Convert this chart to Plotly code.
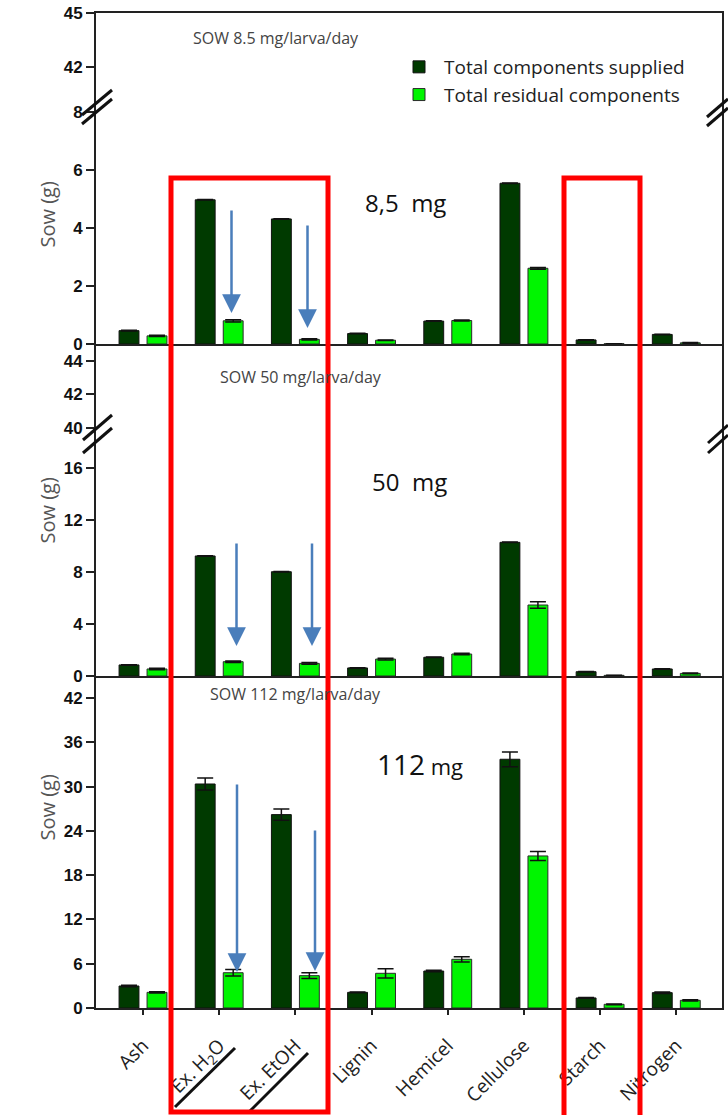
import plotly.graph_objects as go

W, H = 728, 1115

categories = ["Ash", "Ex. H<sub>2</sub>O", "Ex. EtOH", "Lignin", "Hemicel", "Cellulose", "Starch", "Nitrogen"]

# SOW 8.5 mg/larva/day
supplied_85 = [0.46, 4.97, 4.31, 0.36, 0.79, 5.54, 0.14, 0.33]
residual_85 = [0.28, 0.80, 0.16, 0.13, 0.81, 2.61, 0.01, 0.04]
supplied_85_err = [0.01, 0.01, 0.01, 0.01, 0.01, 0.01, 0.01, 0.01]
residual_85_err = [0.02, 0.04, 0.02, 0.01, 0.02, 0.03, 0.0, 0.01]

# SOW 50 mg/larva/day
supplied_50 = [0.85, 9.23, 8.02, 0.62, 1.44, 10.28, 0.33, 0.54]
residual_50 = [0.54, 1.10, 0.97, 1.30, 1.69, 5.46, 0.05, 0.20]
supplied_50_err = [0.02, 0.02, 0.02, 0.02, 0.02, 0.02, 0.02, 0.02]
residual_50_err = [0.05, 0.06, 0.06, 0.06, 0.06, 0.25, 0.01, 0.03]

# SOW 112 mg/larva/day
supplied_112 = [2.98, 30.35, 26.2, 2.12, 5.01, 33.7, 1.36, 2.08]
residual_112 = [2.12, 4.78, 4.38, 4.70, 6.60, 20.6, 0.50, 1.04]
supplied_112_err = [0.1, 0.8, 0.77, 0.05, 0.1, 1.0, 0.05, 0.1]
residual_112_err = [0.08, 0.45, 0.40, 0.63, 0.36, 0.60, 0.05, 0.08]

DARK = "#003a00"
LIGHT = "#00f500"
EDGE = "#2a2a2a"


def px(x):
    return x / W


def py(y):
    return 1 - y / H


fig = go.Figure()

panels = [
    (supplied_85, residual_85, supplied_85_err, residual_85_err, [("x", "y"), ("x2", "y2")]),
    (supplied_50, residual_50, supplied_50_err, residual_50_err, [("x3", "y3"), ("x4", "y4")]),
    (supplied_112, residual_112, supplied_112_err, residual_112_err, [("x5", "y5")]),
]

first = True
for sup, res, se, re_, axes in panels:
    for xa, ya in axes:
        fig.add_trace(go.Bar(
            x=categories, y=sup, name="Total components supplied",
            marker=dict(color=DARK, line=dict(color="#111", width=1)),
            error_y=dict(type="data", array=se, visible=True, color="#111", thickness=1.5, width=8),
            xaxis=xa, yaxis=ya, showlegend=first, legendgroup="s",
        ))
        fig.add_trace(go.Bar(
            x=categories, y=res, name="Total residual components",
            marker=dict(color=LIGHT, line=dict(color=EDGE, width=1)),
            error_y=dict(type="data", array=re_, visible=True, color="#111", thickness=1.5, width=8),
            xaxis=xa, yaxis=ya, showlegend=first, legendgroup="r",
        ))
        first = False

xdom = [px(96), px(722)]
xrange_ = [-0.617, 7.6]
axis_line = dict(showline=True, linecolor="#222", linewidth=2, automargin=False)
ytick = dict(family="Liberation Sans, Arial", size=17, color="#111", weight="bold")

common_x = dict(domain=xdom, range=xrange_, showgrid=False, zeroline=False, fixedrange=True,
                type="category", **axis_line)
common_y = dict(ticks="outside", ticklen=8, tickwidth=2, tickcolor="#222", tickfont=ytick,
                showgrid=False, zeroline=False, mirror=True, tick0=0, **axis_line)

layout = dict(
    width=W, height=H, margin=dict(l=0, r=0, t=0, b=0, autoexpand=False),
    plot_bgcolor="white", paper_bgcolor="white",
    barmode="group", bargap=0.265, bargroupgap=0.29,
    font=dict(family="Open Sans", color="#222"),
    showlegend=True,
    legend=dict(x=px(394), y=py(48), xanchor="left", yanchor="top",
                font=dict(family="Open Sans", size=19, color="#222"),
                bgcolor="rgba(0,0,0,0)", tracegroupgap=0, itemwidth=40),
)

# Panel 1 (broken axis)
layout["xaxis"] = dict(common_x, anchor="y", showticklabels=False, ticks="")
layout["yaxis"] = dict(common_y, domain=[py(344), py(100)], range=[0, 8.41], dtick=2, anchor="x")
layout["xaxis2"] = dict(common_x, anchor="y2", side="top", showticklabels=False, ticks="")
layout["yaxis2"] = dict(common_y, domain=[py(100), py(13)], range=[40.17, 45], dtick=3, anchor="x2")
# Panel 2 (broken axis)
layout["xaxis3"] = dict(common_x, anchor="y3", showticklabels=False, ticks="")
layout["yaxis3"] = dict(common_y, domain=[py(676), py(440)], range=[0, 18.15], dtick=4, anchor="x3")
layout["xaxis4"] = dict(common_x, anchor="y4", side="top", showticklabels=False, ticks="")
layout["yaxis4"] = dict(common_y, domain=[py(440), py(346)], range=[39.29, 44.88], dtick=2, anchor="x4")
# Panel 3
layout["xaxis5"] = dict(common_x, anchor="y5", mirror=True, showticklabels=True, ticks="outside",
                        ticklen=5, tickwidth=2, tickcolor="#222", tickangle=-45,
                        ticklabelstandoff=12,
                        tickfont=dict(family="Open Sans", size=19, color="#222"))
layout["yaxis5"] = dict(common_y, domain=[py(1008), py(678)], range=[0, 44.71], dtick=6, anchor="x5")

fig.update_layout(**layout)

ann = []
for yc in [180, 511, 843]:
    ann.append(dict(x=px(31), y=py(yc), xref="paper", yref="paper", text="Sow (g)", textangle=-90,
                    showarrow=False, font=dict(family="Open Sans", size=20, color="#555")))
for xc, yc, t in [(276, 25, "SOW 8.5 mg/larva/day"), (301, 364, "SOW 50 mg/larva/day"),
                  (295, 694, "SOW 112 mg/larva/day")]:
    ann.append(dict(x=px(xc), y=py(yc), xref="paper", yref="paper", text=t, showarrow=False,
                    font=dict(family="Open Sans", size=16, color="#444")))
ann.append(dict(x=px(405), y=py(184), xref="paper", yref="paper", text="8,5  mg", showarrow=False,
                font=dict(family="Open Sans", size=24, color="#111")))
ann.append(dict(x=px(409), y=py(481), xref="paper", yref="paper", text="50  mg", showarrow=False,
                font=dict(family="Open Sans", size=24, color="#111")))
ann.append(dict(x=px(420), y=py(785), xref="paper", yref="paper",
                text="<span style='font-size:28px'>112</span> mg", showarrow=False,
                font=dict(family="Open Sans", size=22, color="#111")))
for xt, yt, y0 in [(231.5, 313, 209), (307.5, 328, 224), (236.5, 646, 542), (312, 646, 542),
                   (237, 972, 783), (315, 971, 829)]:
    ann.append(dict(x=px(xt), y=py(yt), xref="paper", yref="paper", ax=0, ay=-(yt - y0),
                    axref="pixel", ayref="pixel", text="", showarrow=True, arrowhead=2,
                    arrowsize=1.5, arrowwidth=2.5, arrowcolor="#4a7ebb", standoff=0))
fig.update_layout(annotations=ann)

shapes = []


def line(x0, y0, x1, y1, color="#111", width=3):
    shapes.append(dict(type="line", xref="paper", yref="paper", x0=px(x0), y0=py(y0),
                       x1=px(x1), y1=py(y1), line=dict(color=color, width=width)))


for (a, b, c, d) in [(82, 115, 112, 90), (82, 124, 112, 99),
                     (707, 117, 728, 99), (707, 126, 728, 108),
                     (83, 440, 112, 415), (83, 453, 112, 428),
                     (708, 443, 728, 425), (708, 453, 728, 435)]:
    line(a, b, c, d, width=3)
line(175, 1107, 235, 1048, width=3)
line(248, 1113, 308, 1053, width=3)
for x0, x1, y0, y1 in [(171, 328, 178, 1112), (564, 640, 178, 1125)]:
    shapes.append(dict(type="rect", xref="paper", yref="paper", x0=px(x0), x1=px(x1),
                       y0=py(y1), y1=py(y0), line=dict(color="#ff0000", width=5)))
fig.update_layout(shapes=shapes)

fig.write_html("out.html")
